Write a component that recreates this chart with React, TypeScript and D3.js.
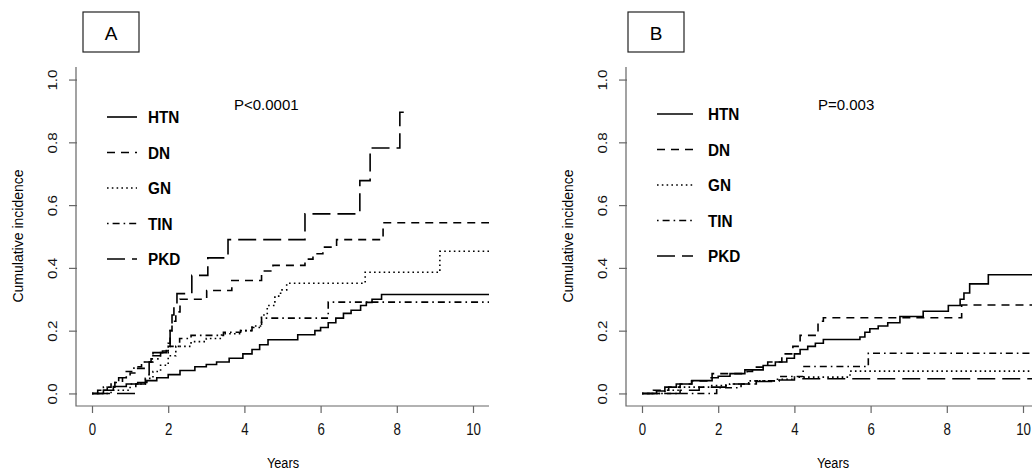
import React, { useRef, useEffect } from "react";
import * as d3 from "d3";

// step curves: [years, cumulative incidence]
const htnA = [[0, 0], [0.3, 0.01], [0.56, 0.022], [0.9, 0.03], [1.2, 0.035], [1.44, 0.041], [1.7, 0.05], [2.0, 0.06], [2.31, 0.073], [2.7, 0.085], [3.0, 0.092], [3.27, 0.1], [3.6, 0.112], [3.96, 0.126], [4.2, 0.14], [4.4, 0.155], [4.62, 0.171], [5.4, 0.187], [5.85, 0.2], [6.0, 0.21], [6.2, 0.225], [6.4, 0.24], [6.6, 0.255], [6.8, 0.265], [7.05, 0.28], [7.2, 0.29], [7.35, 0.3], [7.6, 0.315], [10.42, 0.315]];
const dnA = [[0, 0], [0.2, 0.01], [0.4, 0.02], [0.6, 0.035], [0.8, 0.05], [1.0, 0.065], [1.2, 0.08], [1.4, 0.1], [1.6, 0.12], [1.85, 0.135], [2.0, 0.16], [2.05, 0.2], [2.1, 0.23], [2.2, 0.26], [2.31, 0.3], [3.01, 0.328], [3.67, 0.36], [4.45, 0.39], [4.75, 0.408], [5.59, 0.428], [5.8, 0.445], [6.06, 0.466], [6.42, 0.49], [7.64, 0.544], [10.42, 0.544]];
const gnA = [[0, 0], [0.5, 0.01], [1.0, 0.03], [1.4, 0.048], [1.6, 0.07], [1.8, 0.09], [2.0, 0.12], [2.2, 0.15], [2.6, 0.165], [3.0, 0.175], [3.4, 0.19], [3.9, 0.2], [4.2, 0.215], [4.45, 0.25], [4.6, 0.28], [4.8, 0.31], [4.95, 0.33], [5.11, 0.351], [7.17, 0.386], [9.13, 0.453], [10.42, 0.453]];
const tinA = [[0, 0], [0.15, 0.01], [0.3, 0.02], [0.5, 0.035], [0.7, 0.05], [0.9, 0.07], [1.1, 0.085], [1.3, 0.1], [1.55, 0.11], [1.8, 0.13], [2.0, 0.15], [2.3, 0.175], [2.6, 0.185], [3.45, 0.195], [3.9, 0.2], [4.2, 0.21], [4.45, 0.24], [6.2, 0.291], [10.42, 0.291]];
const pkdA = [[0, 0], [1.15, 0.03], [1.4, 0.06], [1.5, 0.1], [1.6, 0.13], [1.95, 0.15], [2.05, 0.2], [2.1, 0.25], [2.15, 0.28], [2.23, 0.318], [2.62, 0.376], [3.04, 0.432], [3.57, 0.49], [5.59, 0.572], [7.03, 0.678], [7.3, 0.782], [8.08, 0.896], [8.26, 0.896]];

const htnB = [[0, 0], [0.38, 0.008], [0.6, 0.02], [0.9, 0.03], [1.31, 0.041], [1.84, 0.05], [2.0, 0.055], [2.31, 0.063], [2.7, 0.075], [3.18, 0.089], [3.5, 0.1], [3.8, 0.112], [4.0, 0.126], [4.15, 0.14], [4.35, 0.15], [4.55, 0.16], [4.76, 0.172], [5.72, 0.18], [5.85, 0.195], [5.98, 0.206], [6.2, 0.215], [6.45, 0.225], [6.77, 0.245], [7.38, 0.262], [8.04, 0.28], [8.35, 0.3], [8.45, 0.32], [8.6, 0.349], [9.09, 0.378], [10.42, 0.378]];
const dnB = [[0, 0], [0.3, 0.01], [0.7, 0.02], [1.0, 0.03], [1.3, 0.04], [1.7, 0.05], [1.84, 0.063], [2.76, 0.07], [2.9, 0.084], [3.3, 0.1], [3.67, 0.126], [3.96, 0.15], [4.15, 0.185], [4.62, 0.23], [4.76, 0.241], [8.39, 0.282], [10.42, 0.282]];
const gnB = [[0, 0], [0.6, 0.01], [1.0, 0.02], [1.8, 0.025], [2.3, 0.03], [2.8, 0.04], [3.5, 0.045], [4.0, 0.052], [5.46, 0.071], [10.42, 0.071]];
const tinB = [[0, 0], [1.96, 0.018], [2.6, 0.03], [3.0, 0.04], [3.6, 0.054], [4.23, 0.086], [5.94, 0.128], [10.42, 0.128]];
const pkdB = [[0, 0], [1.0, 0.01], [1.5, 0.02], [2.2, 0.03], [2.8, 0.038], [3.4, 0.043], [4.0, 0.047], [10.42, 0.047]];

const groups = ["HTN", "DN", "GN", "TIN", "PKD"];
const dashes = ["", "8,6", "1.6,3.2", "1.6,4,7,4", "18,7"];
const xTicks = [0, 2, 4, 6, 8, 10];
const yTicks = [0, 0.2, 0.4, 0.6, 0.8, 1.0];

const panels = [
  { label: "A", pText: "P<0.0001", series: [htnA, dnA, gnA, tinA, pkdA], dx: 0, pX: 234, legendY: 117, boxX: 83 },
  { label: "B", pText: "P=0.003", series: [htnB, dnB, gnB, tinB, pkdB], dx: 550, pX: 818, legendY: 114, boxX: 628 },
];

const FONT = "'Liberation Sans', Arial, sans-serif";

const App = () => {
  const svgRef = useRef(null);

  useEffect(() => {
    const svg = d3.select(svgRef.current);
    svg.selectAll("*").remove();

    const y = d3.scaleLinear().domain([-0.04, 1.04]).range([406, 67]);

    panels.forEach((p) => {
      const x = d3.scaleLinear().domain([-0.42, 10.42]).range([76 + p.dx, 489 + p.dx]);
      const g = svg.append("g");

      // L-shaped frame
      g.append("path")
        .attr("d", `M${x(-0.42)},${y(1.04)}V${y(-0.04)}H${x(10.42)}`)
        .attr("fill", "none")
        .attr("stroke", "#666")
        .attr("stroke-width", 1.2);

      // x axis
      const xa = g.append("g")
        .attr("transform", `translate(0,${y(-0.04)})`)
        .call(d3.axisBottom(x).tickValues(xTicks).tickSize(7).tickSizeOuter(0).tickPadding(10).tickFormat(d3.format("d")));
      xa.select(".domain").remove();
      xa.selectAll("line").attr("stroke", "#666").attr("stroke-width", 1.2);
      xa.selectAll("text")
        .attr("font-family", FONT)
        .attr("font-size", 17)
        .attr("fill", "#111")
        .attr("transform", "scale(0.78,1)");

      // y axis
      const ya = g.append("g")
        .attr("transform", `translate(${x(-0.42) + 1},0)`)
        .call(d3.axisLeft(y).tickValues(yTicks).tickSize(8).tickSizeOuter(0).tickFormat(d3.format(".1f")));
      ya.select(".domain").remove();
      ya.selectAll("line").attr("stroke", "#666").attr("stroke-width", 1.2);
      ya.selectAll("text")
        .attr("font-family", FONT)
        .attr("font-size", 16)
        .attr("fill", "#111")
        .attr("x", 0)
        .attr("dy", 0)
        .attr("text-anchor", "middle")
        .attr("transform", "translate(-25,0) rotate(-90) scale(0.95,0.85)")
        .attr("dominant-baseline", "central");

      // axis titles
      g.append("text")
        .attr("transform", `translate(${283 + p.dx},468) scale(0.85,1)`)
        .attr("text-anchor", "middle")
        .attr("font-family", FONT)
        .attr("font-size", 15)
        .text("Years");
      g.append("text")
        .attr("transform", `translate(${18 + p.dx},${236}) rotate(-90)`)
        .attr("text-anchor", "middle")
        .attr("dominant-baseline", "central")
        .attr("font-family", FONT)
        .attr("font-size", 14)
        .text("Cumulative incidence");

      // panel tag
      g.append("rect")
        .attr("x", p.boxX)
        .attr("y", 12)
        .attr("width", 56)
        .attr("height", 40)
        .attr("fill", "#fff")
        .attr("stroke", "#222")
        .attr("stroke-width", 1.2);
      g.append("text")
        .attr("x", p.boxX + 28)
        .attr("y", 33)
        .attr("text-anchor", "middle")
        .attr("dominant-baseline", "central")
        .attr("font-family", FONT)
        .attr("font-size", 19)
        .text(p.label);

      // p value
      g.append("text")
        .attr("x", p.pX)
        .attr("y", 104)
        .attr("dominant-baseline", "central")
        .attr("font-family", FONT)
        .attr("font-size", 15)
        .text(p.pText);

      // curves
      const line = d3.line<number[]>()
        .x((d) => x(d[0]))
        .y((d) => y(d[1]))
        .curve(d3.curveStepAfter);
      p.series.forEach((s, i) => {
        g.append("path")
          .datum(s)
          .attr("d", line)
          .attr("fill", "none")
          .attr("stroke", "#000")
          .attr("stroke-width", 1.6)
          .attr("stroke-dasharray", dashes[i]);
      });

      // legend
      const lx0 = p.label === "A" ? 107 : 657;
      const lx1 = p.label === "A" ? 137 : 693;
      const tx = p.label === "A" ? 148 : 708;
      groups.forEach((name, i) => {
        const ly = p.legendY + i * 35.5;
        g.append("line")
          .attr("x1", lx0)
          .attr("x2", lx1)
          .attr("y1", ly)
          .attr("y2", ly)
          .attr("stroke", "#000")
          .attr("stroke-width", 1.6)
          .attr("stroke-dasharray", dashes[i]);
        g.append("text")
          .attr("transform", `translate(${tx},${ly}) scale(0.9,1)`)
          .attr("dominant-baseline", "central")
          .attr("font-family", FONT)
          .attr("font-weight", "bold")
          .attr("font-size", 17)
          .text(name);
      });
    });
  }, []);

  return (
    <div style={{ position: "absolute", left: 0, top: 0, background: "#fff" }}>
      <svg ref={svgRef} width={1032} height={473} style={{ display: "block" }}></svg>
    </div>
  );
};

export default App;
